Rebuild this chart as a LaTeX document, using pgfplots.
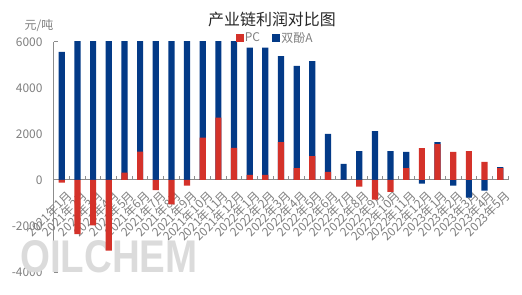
\documentclass[border=0pt]{standalone}
\usepackage{pgfplots}
\pgfplotsset{compat=1.18}
\usepackage{fontspec}
\newfontfamily\cjk{Noto Sans CJK SC}
\newfontfamily\wmfont{Liberation Sans}
\definecolor{pcred}{HTML}{D4322A}
\definecolor{bpablue}{HTML}{033A87}
\definecolor{labgray}{HTML}{7F7F7F}
\definecolor{axisgray}{HTML}{8C8C8C}
\begin{document}
\begin{tikzpicture}
\begin{axis}[
  scale only axis, width=454bp, height=230bp,
  xmin=-0.5, xmax=28.5, ymin=-4000, ymax=6000,
  enlargelimits=false,
  clip mode=individual,
  axis x line*=middle, axis y line*=left,
  axis line style={-, draw=axisgray, line width=1bp},
  ybar, bar width=6.2bp, bar shift=0pt,
  ytick={-4000,-2000,0,2000,4000,6000},
  yticklabels={-4000,-2000,0,2000,4000,6000},
  xtick={0,...,28},
  xticklabels={2021年1月,2021年2月,2021年3月,2021年4月,2021年5月,2021年6月,2021年7月,2021年8月,2021年9月,2021年10月,2021年11月,2021年12月,2022年1月,2022年2月,2022年3月,2022年4月,2022年5月,2022年6月,2022年7月,2022年8月,2022年9月,2022年10月,2022年11月,2022年12月,2023年1月,2023年2月,2023年3月,2023年4月,2023年5月},
  major tick length=0pt,
  minor xtick={-0.5,0.5,...,28.5},
  minor ytick={-4000,6000},
  minor tick length=4bp,
  tick align=inside,
  every minor tick/.style={draw=axisgray, line width=1bp},
  yticklabel style={font=\cjk\fontsize{12}{12}\selectfont, text=labgray, xshift=-8bp},
  xticklabel style={font=\cjk\fontsize{12}{12}\selectfont, text=labgray, rotate=45, anchor=east, inner sep=1bp, xshift=-3bp, yshift=-15bp},
  legend columns=2,
  legend style={at={(0.487,1.017)}, anchor=center, draw=none, fill=none,
    font=\cjk\fontsize{12}{12}\selectfont, text=labgray, inner sep=0pt,
    /tikz/every even column/.append style={column sep=10bp}},
  legend cell align=left,
]
\coordinate (bl) at (rel axis cs:0,0);
\node[font=\wmfont\bfseries\fontsize{46}{46}\selectfont, text=black!14, xscale=0.84, anchor=base] at (rel axis cs:0.1211,-0.0043) {OILCHEM};
\addlegendimage{legend image code/.code={\fill[pcred] (0bp,-3.5bp) rectangle (7bp,3.5bp);}}
\addlegendentry{PC}
\addlegendimage{legend image code/.code={\fill[bpablue] (0bp,-3.5bp) rectangle (7bp,3.5bp);}}
\addlegendentry{双酚A}
\addplot[fill=bpablue, draw=none, forget plot] coordinates {
(0,5570) (1,7000) (2,7000) (3,7000) (4,7000) (5,7000) (6,7000) (7,7000) (8,7000) (9,7000)
(10,7000) (11,7000) (12,5750) (13,5750) (14,5390) (15,4960) (16,5170) (17,2000) (18,700) (19,1260)
(20,2130) (21,1260) (22,1220) (23,-160) (24,1650) (25,-250) (26,-770) (27,-460) (28,565)};
\addplot[fill=pcred, draw=none, forget plot] coordinates {
(0,-110) (1,-2350) (2,-1970) (3,-3070) (4,320) (5,1230) (6,-435) (7,-1060) (8,-250) (9,1840)
(10,2710) (11,1400) (12,220) (13,220) (14,1650) (15,520) (16,1040) (17,350) (18,0) (19,-290)
(20,-855) (21,-520) (22,520) (23,1390) (24,1565) (25,1220) (26,1260) (27,785) (28,520)};
\end{axis}
\node[font=\cjk\fontsize{16}{16}\selectfont, text=black!85] at ([shift={(218bp,253bp)}]bl) {产业链利润对比图};
\node[font=\cjk\fontsize{12}{12}\selectfont, text=labgray] at ([shift={(-15bp,246bp)}]bl) {元/吨};
\pgfresetboundingbox
\path[use as bounding box] ([shift={(-54bp,-23bp)}]bl) rectangle ([shift={(468bp,272bp)}]bl);
\end{tikzpicture}
\end{document}
